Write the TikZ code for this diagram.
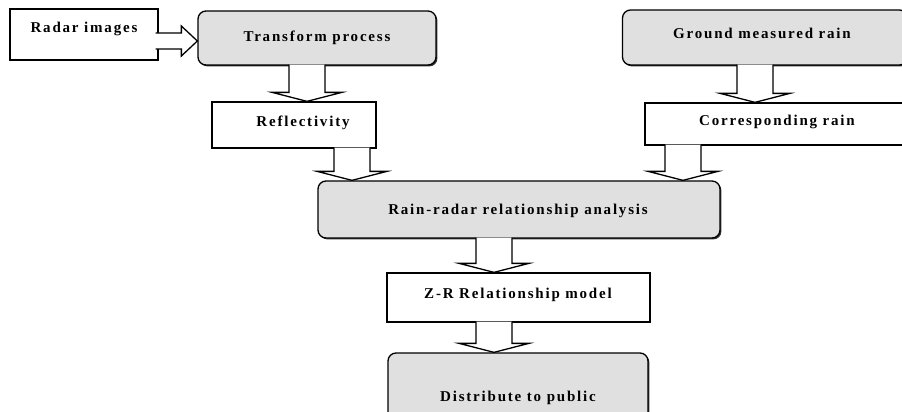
\documentclass[tikz,border=0pt]{standalone}
\usepackage{fontspec}
\setmainfont{Liberation Serif}[LetterSpace=12]
\usetikzlibrary{calc,shadows}
\definecolor{boxgray}{HTML}{E0E0E0}
\tikzset{
  box/.style={draw=black, line width=1.3pt, fill=white, inner sep=0pt,
    drop shadow={shadow xshift=1.4pt, shadow yshift=-1.4pt, opacity=1, fill=black!80}},
  rbox/.style={box, fill=boxgray, rounded corners=8pt},
  lbl/.style={font=\fontsize{15}{17}\selectfont\bfseries, inner sep=0pt},
  blockarrow/.style={draw=black, line width=1.3pt, fill=white, line join=miter}
}
\newcommand\dnarrow[3]{%
  \coordinate (s) at (#3,0 |- #1.south);
  \coordinate (t) at (#3,0 |- #2.north);
  \draw[blockarrow] ($(s)+(-18,-1)$) -- ($(t)+(-18,-9)$) -- ($(t)+(-35,-9)$) -- (t)
    -- ($(t)+(35,-9)$) -- ($(t)+(18,-9)$) -- ($(s)+(18,-1)$);
}
\begin{document}
\begin{tikzpicture}[x=1pt,y=-1pt]
\useasboundingbox (0,0) rectangle (902,412);
\clip (0,0) rectangle (902,412);
% boxes
\node[box, minimum width=148pt, minimum height=51pt] (radar) at (84,34.5) {};
\node[lbl] (radartxt) at (84,28.5) {Radar images};
\node[rbox, minimum width=238pt, minimum height=54pt] (tp) at (317,38) {};
\node[lbl] (tptxt) at (tp) {Transform process};
\node[rbox, minimum width=285pt, minimum height=55pt] (gr) at (765,37.5) {};
\node[lbl] (grtxt) at (762,33.5) {Ground measured rain};
\node[box, minimum width=164pt, minimum height=46pt] (refl) at (294,125) {};
\node[lbl] (refltxt) at (303,123) {Reflectivity};
\node[box, minimum width=262pt, minimum height=42pt] (corr) at (776,124) {};
\node[lbl] (corrtxt) at (777,122) {Corresponding rain};
\node[rbox, minimum width=402pt, minimum height=57pt] (rr) at (519,209.5) {};
\node[lbl] (rrtxt) at (518,211) {Rain-radar relationship analysis};
\node[box, minimum width=263pt, minimum height=49pt] (zr) at (518.5,297.5) {};
\node[lbl] (zrtxt) at (518,295) {Z-R Relationship model};
\node[rbox, minimum width=260pt, minimum height=90pt] (dist) at (518,398) {};
\node[lbl] (disttxt) at (518,398) {Distribute to public};
% arrows
\coordinate (hs) at (radar.east |- 0,41);
\coordinate (ht) at (tp.west |- 0,41);
\draw[blockarrow] ($(hs)+(-3,-8)$) -- ($(ht)+(-16,-8)$) -- ($(ht)+(-16,-15)$) -- (ht)
  -- ($(ht)+(-16,15)$) -- ($(ht)+(-16,8)$) -- ($(hs)+(-3,8)$);
\dnarrow{tp}{refl}{307}
\dnarrow{gr}{corr}{755}
\dnarrow{refl}{rr}{352}
\dnarrow{corr}{rr}{683}
\dnarrow{rr}{zr}{494}
\dnarrow{zr}{dist}{494}
\end{tikzpicture}
\end{document}
